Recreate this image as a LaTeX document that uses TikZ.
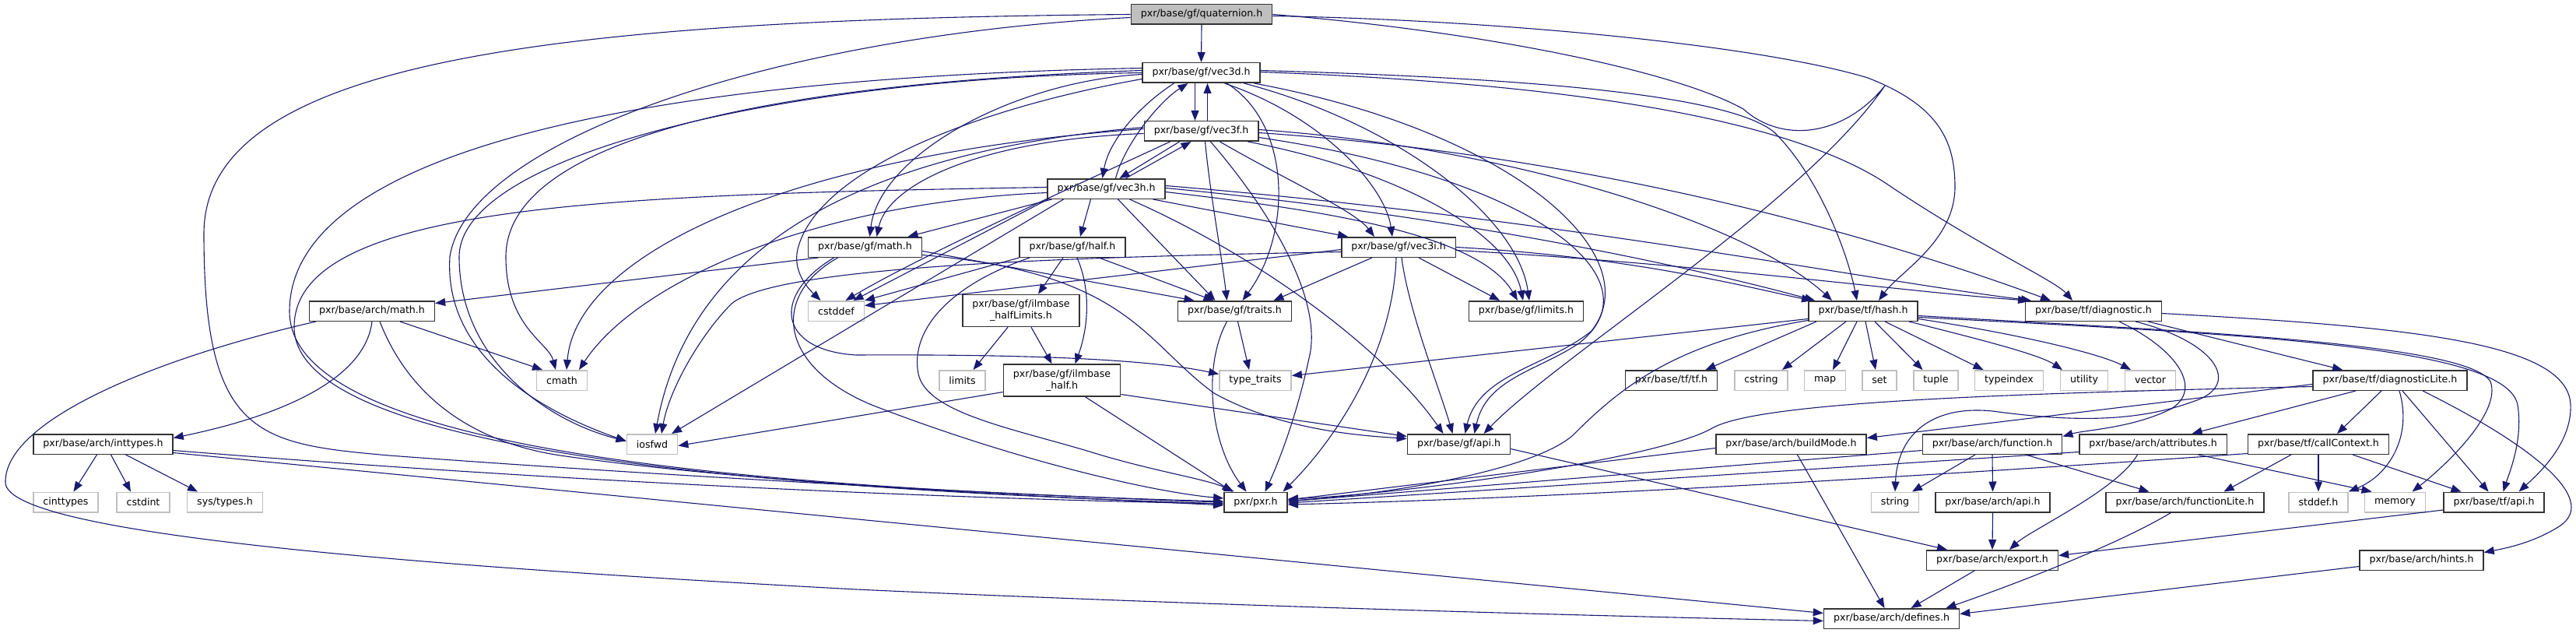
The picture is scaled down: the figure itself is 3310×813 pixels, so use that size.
\documentclass[tikz,border=0pt]{standalone}
\usepackage{fontspec}
\setmainfont{DejaVu Sans}
\usetikzlibrary{arrows.meta}
\definecolor{edgec}{HTML}{191970}
\begin{document}
\begin{tikzpicture}[x=1pt,y=-1pt,
  nd/.style={draw=black!80, line width=1.5pt, fill=white, font=\fontsize{12.6}{15}\selectfont, inner xsep=12.5pt, inner ysep=0pt, minimum height=25.5pt, align=center},
  sys/.style={nd, draw=black!25},
  cur/.style={nd, fill=black!25},
  two/.style={nd, minimum height=41pt},
  e/.style={draw=edgec, line width=1.1pt, -{Triangle[length=13pt,width=10pt]}},
]
\useasboundingbox (0,0) rectangle (3310,813);
% nodes
\node[cur] (quat) at (1544,18.5) {pxr/base/gf/quaternion.h};
\node[nd] (vd) at (1543.5,93.5) {pxr/base/gf/vec3d.h};
\node[nd] (vf) at (1543.5,168.5) {pxr/base/gf/vec3f.h};
\node[nd] (vh) at (1421.5,242.5) {pxr/base/gf/vec3h.h};
\node[nd] (gmath) at (1111.5,317.5) {pxr/base/gf/math.h};
\node[nd] (half) at (1378,317.5) {pxr/base/gf/half.h};
\node[nd] (vi) at (1797,317.5) {pxr/base/gf/vec3i.h};
\node[nd] (amath) at (478,399.5) {pxr/base/arch/math.h};
\node[sys] (cstddef) at (1074.5,399.5) {cstddef};
\node[two] (hlim) at (1312,399) {pxr/base/gf/ilmbase\\\_halfLimits.h};
\node[nd] (traits) at (1586.5,399.5) {pxr/base/gf/traits.h};
\node[nd] (glim) at (1961,399.5) {pxr/base/gf/limits.h};
\node[nd] (hash) at (2394,399.5) {pxr/base/tf/hash.h};
\node[nd] (diag) at (2690,399.5) {pxr/base/tf/diagnostic.h};
\node[sys] (cmath) at (722,488.5) {cmath};
\node[sys] (limits) at (1236.5,488.5) {limits};
\node[two] (ihalf) at (1364.5,488.5) {pxr/base/gf/ilmbase\\\_half.h};
\node[sys] (ttraits) at (1613,488.5) {type\_traits};
\node[nd] (tftf) at (2147.5,488.5) {pxr/base/tf/tf.h};
\node[sys] (cstring) at (2263,488.5) {cstring};
\node[sys] (map) at (2345,488.5) {map};
\node[sys] (set) at (2415,488.5) {set};
\node[sys] (tuple) at (2487.5,488.5) {tuple};
\node[sys] (tindex) at (2581.5,488.5) {typeindex};
\node[sys] (utility) at (2678,488.5) {utility};
\node[sys] (vector) at (2763,488.5) {vector};
\node[nd] (dlite) at (3071,488.5) {pxr/base/tf/diagnosticLite.h};
\node[nd] (inttypes) at (132.5,570.5) {pxr/base/arch/inttypes.h};
\node[sys] (iosfwd) at (838,570.5) {iosfwd};
\node[nd] (gapi) at (1874.5,570.5) {pxr/base/gf/api.h};
\node[nd] (build) at (2301.5,570.5) {pxr/base/arch/buildMode.h};
\node[nd] (func) at (2560,570.5) {pxr/base/arch/function.h};
\node[nd] (attr) at (2766.5,570.5) {pxr/base/arch/attributes.h};
\node[nd] (cctx) at (2979,570.5) {pxr/base/tf/callContext.h};
\node[sys] (cinttypes) at (84.5,645) {cinttypes};
\node[sys] (cstdint) at (184,645) {cstdint};
\node[sys] (systypes) at (289,645) {sys/types.h};
\node[nd] (pxr) at (1613.5,645) {pxr/pxr.h};
\node[sys] (string) at (2435,645) {string};
\node[nd] (aapi) at (2560.5,645) {pxr/base/arch/api.h};
\node[nd] (flite) at (2807.5,645) {pxr/base/arch/functionLite.h};
\node[sys] (stddef) at (2979,645) {stddef.h};
\node[sys] (memory) at (3077.5,645) {memory};
\node[nd] (tfapi) at (3204.5,645) {pxr/base/tf/api.h};
\node[nd] (export) at (2560,719.5) {pxr/base/arch/export.h};
\node[nd] (hints) at (3111.5,719.5) {pxr/base/arch/hints.h};
\node[nd] (defines) at (2430.5,794.5) {pxr/base/arch/defines.h};

% quaternion
\draw[e] (quat.south) -- (vd.north);
\draw[e] (quat.west) .. controls (700,25) and (262,80) .. (262,300) .. controls (262,560) and (330,570) .. (500,585) .. controls (900,615) and (1400,640) .. (pxr.west);
\draw[e] ([yshift=-4]quat.west) .. controls (1000,45) and (600,180) .. (578,330) .. controls (570,460) and (700,530) .. ([yshift=4]iosfwd.west);
\draw[e] (quat.east) .. controls (1900,40) and (2150,90) .. (2240,140) .. controls (2290,185) and (2370,175) .. (2422,110) .. controls (2320,260) and (2000,460) .. ([xshift=32]gapi.north);
\draw[e] ([yshift=-2]quat.east) .. controls (1900,25) and (2250,55) .. (2400,100) .. controls (2490,135) and (2512,180) .. (2512,240) .. controls (2512,310) and (2440,350) .. ([xshift=20]hash.north);

% vec3d
\draw[e] ([xshift=-8]vd.south) -- ([xshift=-8]vf.north);
\draw[e] ([xshift=8]vf.north) -- ([xshift=8]vd.south);
\draw[e] ([xshift=-35]vd.south) .. controls (1465,135) and (1425,180) .. ([xshift=-5]vh.north);
\draw[e] ([xshift=12]vh.north) .. controls (1445,185) and (1490,130) .. ([xshift=-17]vd.south);
\draw[e] ([xshift=-28]vf.south) -- ([xshift=17]vh.north);
\draw[e] ([xshift=25]vh.north) -- ([xshift=-13]vf.south);
\draw[e] ([xshift=30]vd.south) .. controls (1700,150) and (1780,240) .. ([xshift=-8]vi.north);
\draw[e] ([xshift=24]vf.south) .. controls (1650,230) and (1740,270) .. ([xshift=-31]vi.north);
\draw[e] ([xshift=60]vh.south) -- ([xshift=-65]vi.north);
\draw[e] ([yshift=-2]vd.west) .. controls (1300,105) and (1130,200) .. ([xshift=6]gmath.north);
\draw[e] ([xshift=33]vd.south) .. controls (1660,160) and (1660,300) .. ([xshift=10]traits.north);
\draw[e] ([xshift=55]vd.south) .. controls (1800,160) and (1950,280) .. ([xshift=4]glim.north);
\draw[e] ([xshift=68]vd.south) .. controls (1950,170) and (2120,330) .. (2045,425) .. controls (1990,470) and (1900,480) .. ([xshift=8]gapi.north);
\draw[e] ([yshift=3]vd.west) .. controls (900,110) and (650,200) .. (650,330) .. controls (650,420) and (705,440) .. ([xshift=-8]cmath.north);
\draw[e] ([yshift=-8]vd.west) .. controls (1250,140) and (1050,220) .. (1025,320) .. controls (1018,350) and (1040,372) .. ([xshift=-20]cstddef.north);
\draw[e] (vd.west) .. controls (1000,100) and (590,200) .. (590,330) .. controls (590,460) and (700,540) .. ([yshift=4]iosfwd.west);
\draw[e] ([yshift=6]vd.west) .. controls (800,100) and (372,200) .. (372,400) .. controls (372,570) and (900,625) .. ([yshift=1]pxr.west);
\draw[e] ([yshift=3]vd.east) .. controls (1950,100) and (2220,120) .. (2280,170) .. controls (2340,230) and (2375,330) .. ([xshift=-8]hash.north);
\draw[e] ([yshift=1]vd.east) .. controls (2100,110) and (2330,170) .. (2430,240) .. controls (2550,320) and (2640,360) .. ([xshift=-27]diag.north);

% vec3f
\draw[e] ([yshift=-3]vf.west) .. controls (1250,180) and (1140,240) .. ([xshift=15]gmath.north);
\draw[e] ([xshift=5]vf.south) .. controls (1555,250) and (1570,330) .. ([xshift=-10]traits.north);
\draw[e] ([xshift=60]vf.south) .. controls (1800,220) and (1940,300) .. ([xshift=-4]glim.north);
\draw[e] ([yshift=-8]vf.east) .. controls (1980,230) and (2130,360) .. (2030,440) .. controls (1980,475) and (1910,485) .. ([xshift=20]gapi.north);
\draw[e] ([yshift=3]vf.west) .. controls (1000,200) and (740,330) .. ([xshift=6]cmath.north);
\draw[e] ([xshift=-40]vf.south) .. controls (1400,230) and (1180,330) .. ([xshift=12]cstddef.north);
\draw[e] ([yshift=5]vf.west) .. controls (1050,200) and (880,350) .. ([xshift=4]iosfwd.north);
\draw[e] ([xshift=12]vf.south) .. controls (1640,280) and (1700,390) .. (1682,460) .. controls (1665,540) and (1640,600) .. ([xshift=12]pxr.north);
\draw[e] ([yshift=2]vf.east) .. controls (1950,190) and (2250,290) .. ([xshift=-40]hash.north);
\draw[e] ([yshift=-2]vf.east) .. controls (2050,200) and (2400,300) .. ([xshift=-55]diag.north);

% vec3h
\draw[e] ([xshift=-20]vh.south) -- ([xshift=10]half.north);
\draw[e] ([xshift=-70]vh.south) -- ([xshift=55]gmath.north);
\draw[e] ([xshift=15]vh.south) -- ([xshift=-25]traits.north);
\draw[e] ([yshift=-4]vh.east) .. controls (1700,270) and (1900,300) .. ([xshift=-11]glim.north);
\draw[e] ([xshift=30]vh.south) .. controls (1620,330) and (1780,450) .. ([xshift=-20]gapi.north);
\draw[e] ([yshift=-5]vh.west) .. controls (1050,260) and (820,360) .. ([xshift=22]cmath.north);
\draw[e] ([xshift=-75]vh.south) -- ([xshift=22]cstddef.north);
\draw[e] ([xshift=-55]vh.south) -- ([xshift=25]iosfwd.north);
\draw[e] ([yshift=2]vh.west) .. controls (800,250) and (378,260) .. (378,420) .. controls (378,570) and (900,625) .. ([yshift=-2]pxr.west);
\draw[e] ([yshift=1]vh.east) .. controls (1900,280) and (2200,350) .. ([xshift=-62]hash.north);
\draw[e] ([yshift=4]vh.east) .. controls (2000,280) and (2400,360) .. ([xshift=-80]diag.north);

% vec3i
\draw[e] ([xshift=-34]vi.south) -- ([xshift=50]traits.north);
\draw[e] ([xshift=26]vi.south) -- ([xshift=-34]glim.north);
\draw[e] ([xshift=4]vi.south) .. controls (1810,400) and (1850,500) .. ([xshift=-8]gapi.north);
\draw[e] ([xshift=-3]vi.south) .. controls (1790,450) and (1720,560) .. ([xshift=35]pxr.north);
\draw[e] ([yshift=-3]vi.west) -- ([yshift=7]cstddef.east);
\draw[e] ([yshift=-6]vi.west) .. controls (1400,330) and (1000,340) .. (940,390) .. controls (900,430) and (860,500) .. ([xshift=12]iosfwd.north);
\draw[e] (vi.east) .. controls (2100,330) and (2250,370) .. ([xshift=-66]hash.north);
\draw[e] ([yshift=-4]vi.east) .. controls (2200,340) and (2450,375) .. ([xshift=-84]diag.north);

% gf/math.h
\draw[e] ([xshift=-60]gmath.south) -- ([yshift=10]amath.east);
\draw[e] ([yshift=-5]gmath.east) -- ([xshift=-52]traits.north);
\draw[e] ([yshift=-10]gmath.east) .. controls (1450,350) and (1470,440) .. (1560,505) .. controls (1650,555) and (1760,560) .. ([yshift=7]gapi.west);
\draw[e] ([xshift=-35]gmath.south) .. controls (990,380) and (1000,470) .. (1120,520) .. controls (1300,590) and (1480,632) .. ([yshift=5]pxr.west);
\draw[e] ([xshift=-40]gmath.south) .. controls (990,380) and (1000,450) .. (1100,456) .. controls (1300,455) and (1470,460) .. ([yshift=8]ttraits.west);

% arch/math.h
\draw[e] (amath.south) .. controls (470,480) and (380,530) .. ([yshift=8]inttypes.east);
\draw[e] ([xshift=36]amath.south) -- ([xshift=-25]cmath.north);
\draw[e] ([xshift=10]amath.south) .. controls (530,520) and (620,570) .. (720,585) .. controls (1000,625) and (1400,640) .. ([yshift=-4]pxr.west);
\draw[e] ([xshift=-72]amath.south) .. controls (200,460) and (5,540) .. (7,620) .. controls (10,690) and (600,730) .. (1100,757) .. controls (1600,780) and (2100,792) .. ([yshift=-3]defines.west);

% inttypes
\draw[e] ([xshift=-8]inttypes.south) -- ([xshift=10]cinttypes.north);
\draw[e] ([xshift=10]inttypes.south) -- ([xshift=-16]cstdint.north);
\draw[e] ([xshift=29]inttypes.south) -- ([xshift=-35]systypes.north);
\draw[e] ([yshift=-8]inttypes.east) .. controls (800,625) and (1300,642) .. ([yshift=-2]pxr.west);
\draw[e] ([yshift=-11]inttypes.east) -- ([yshift=7]defines.west);

% traits
\draw[e] ([xshift=4]traits.south) -- ([xshift=-8]ttraits.north);
\draw[e] ([xshift=-10]traits.south) .. controls (1545,470) and (1555,570) .. ([xshift=-12]pxr.north);

% half & ilmbase
\draw[e] ([xshift=-17]hlim.south) -- ([xshift=14]limits.north);
\draw[e] ([xshift=13]hlim.south) -- ([xshift=-13]ihalf.north);
\draw[e] ([xshift=-12]half.south) -- ([xshift=22]hlim.north);
\draw[e] ([xshift=6]half.south) .. controls (1405,380) and (1395,430) .. ([xshift=17]ihalf.north);
\draw[e] ([xshift=34]half.south) -- ([xshift=-27]traits.north);
\draw[e] ([xshift=-55]half.south) .. controls (1210,370) and (1170,430) .. (1180,480) .. controls (1190,530) and (1300,550) .. (1400,580) .. controls (1480,605) and (1550,615) .. ([xshift=-28]pxr.north);
\draw[e] (half.south west) -- (cstddef.north east);
\draw[e] ([yshift=-15]ihalf.west) -- ([yshift=-2]iosfwd.east);
\draw[e] ([xshift=30]ihalf.south) -- ([xshift=-30]pxr.north);
\draw[e] ([yshift=-18]ihalf.east) -- ([yshift=10]gapi.west);
\draw[e] ([yshift=-6]gapi.east) -- ([xshift=-58]export.north);

% tf/hash.h
\draw[e] ([yshift=-10]hash.west) -- ([yshift=6]ttraits.east);
\draw[e] ([yshift=-12]hash.west) .. controls (2150,440) and (2080,500) .. (2020,560) .. controls (1960,610) and (1750,638) .. ([yshift=2]pxr.east);
\draw[e] ([xshift=-60]hash.south) -- ([xshift=44]tftf.north);
\draw[e] ([xshift=-22]hash.south) -- ([xshift=27]cstring.north);
\draw[e] ([xshift=-8]hash.south) -- ([xshift=10]map.north);
\draw[e] ([xshift=3]hash.south) -- ([xshift=-5]set.north);
\draw[e] ([xshift=15]hash.south) -- ([xshift=-17]tuple.north);
\draw[e] ([xshift=28]hash.south) -- ([xshift=-33]tindex.north);
\draw[e] ([xshift=59]hash.south) .. controls (2540,435) and (2620,455) .. ([xshift=-28]utility.north);
\draw[e] ([yshift=-10]hash.east) .. controls (2600,430) and (2700,455) .. ([xshift=-25]vector.north);
\draw[e] ([yshift=-6]hash.east) .. controls (2800,425) and (3170,440) .. (3200,490) .. controls (3215,530) and (3140,600) .. ([xshift=22]memory.north);
\draw[e] ([yshift=-8]hash.east) .. controls (2900,430) and (3220,445) .. (3235,520) .. controls (3242,565) and (3225,605) .. ([xshift=12]tfapi.north);

% tf/diagnostic.h
\draw[e] ([xshift=70]diag.south) -- ([xshift=-61]dlite.north);
\draw[e] ([xshift=33]diag.south) .. controls (2800,450) and (2830,500) .. (2790,525) .. controls (2740,550) and (2680,552) .. ([yshift=10]func.east);
\draw[e] ([xshift=54]diag.south) .. controls (2850,440) and (2880,495) .. (2820,515) .. controls (2740,545) and (2650,540) .. (2560,528) .. controls (2480,520) and (2438,560) .. (string.north);
\draw[e] ([yshift=-3]diag.east) .. controls (3100,420) and (3300,440) .. (3303,520) .. controls (3305,570) and (3260,610) .. ([xshift=32]tfapi.north);

% tf/diagnosticLite.h
\draw[e] ([yshift=-5]dlite.west) -- ([yshift=8]build.east);
\draw[e] ([yshift=-8]dlite.west) .. controls (2600,505) and (2260,515) .. (2200,550) .. controls (2130,590) and (1800,635) .. ([yshift=4]pxr.east);
\draw[e] ([xshift=-44]dlite.south) -- ([xshift=50]attr.north);
\draw[e] ([xshift=-11]dlite.south) -- ([xshift=24]cctx.north);
\draw[e] ([xshift=12]dlite.south) .. controls (3100,560) and (3070,610) .. (stddef.north east);
\draw[e] ([xshift=16]dlite.south) -- ([xshift=-7]tfapi.north);
\draw[e] ([xshift=42]dlite.south) .. controls (3250,570) and (3340,640) .. (3290,675) .. controls (3255,698) and (3215,705) .. ([yshift=10]hints.east);

% tf/callContext.h
\draw[e] ([xshift=-35]cctx.south) -- ([xshift=50]flite.north);
\draw[e] (cctx.south) -- (stddef.north);
\draw[e] ([xshift=44]cctx.south) -- ([xshift=-42]tfapi.north);
\draw[e] ([yshift=-12]cctx.west) .. controls (2500,610) and (2000,640) .. ([yshift=-3]pxr.east);

% arch/attributes.h
\draw[e] ([xshift=-20]attr.south) .. controls (2720,630) and (2610,680) .. ([xshift=22]export.north);
\draw[e] ([xshift=58]attr.south) -- ([xshift=-30]memory.north);
\draw[e] ([yshift=-10]attr.west) -- ([yshift=-1]pxr.east);

% arch/function.h
\draw[e] ([xshift=-22]func.south) -- ([xshift=22]string.north);
\draw[e] (func.south) -- (aapi.north);
\draw[e] ([xshift=43]func.south) -- ([xshift=-46]flite.north);
\draw[e] ([yshift=-8]func.west) -- ([yshift=1]pxr.east);

% arch/buildMode.h
\draw[e] ([xshift=8]build.south) -- ([xshift=-9]defines.north);
\draw[e] ([yshift=-5]build.west) -- ([yshift=3]pxr.east);

% lower arch
\draw[e] (aapi.south) -- (export.north);
\draw[e] ([xshift=-18]flite.south) .. controls (2720,700) and (2590,750) .. ([xshift=70]defines.north);
\draw[e] ([yshift=-10]tfapi.west) -- ([yshift=6]export.east);
\draw[e] ([xshift=-23]export.south) -- ([xshift=25]defines.north);
\draw[e] ([yshift=-8]hints.west) -- ([yshift=6]defines.east);
\end{tikzpicture}
\end{document}
